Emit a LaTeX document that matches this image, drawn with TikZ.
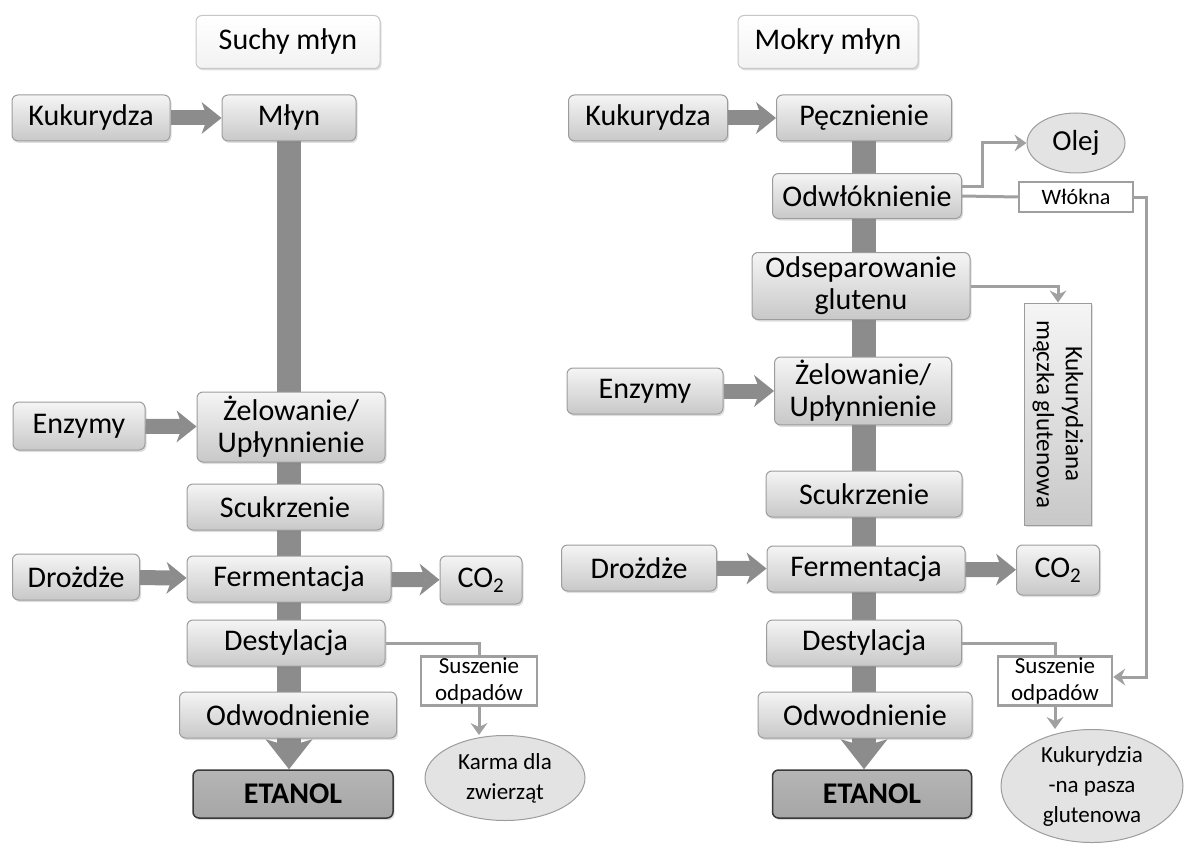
\documentclass[tikz,border=0pt]{standalone}
\usepackage{fontspec}
\setmainfont{Carlito}
\usepackage{tikz}
\usetikzlibrary{arrows.meta,backgrounds}
\usetikzlibrary{shapes,shadows}
\definecolor{boxtop}{HTML}{F5F5F5}
\definecolor{boxbot}{HTML}{C8C8C8}
\definecolor{boxline}{HTML}{9C9C9C}
\definecolor{barcol}{HTML}{8C8C8C}
\definecolor{linkcol}{HTML}{A0A0A0}
\tikzstyle{proc}=[rectangle, rounded corners=6pt, draw=boxline, line width=1pt, top color=boxtop, bottom color=boxbot, minimum height=46pt, align=center, font=\fontsize{30}{32}\selectfont, drop shadow={opacity=0.25, shadow xshift=1.5pt, shadow yshift=-2pt}]
\tikzstyle{titlebox}=[proc, top color=white, bottom color=gray!10, draw=gray!45]
\tikzstyle{result}=[proc, top color=gray!58, bottom color=gray!70, draw=gray!45!black, line width=1.5pt, font=\fontsize{30}{32}\selectfont\bfseries]
\tikzstyle{tag}=[rectangle, draw=gray!75, line width=2.5pt, fill=white, inner sep=1pt, align=center, font=\fontsize{23}{27}\selectfont]
\tikzstyle{prod}=[ellipse, draw=boxline, line width=1pt, fill=gray!22, inner sep=0pt, align=center, font=\fontsize{23}{30}\selectfont]
\tikzstyle{link}=[draw=linkcol, line width=3pt]
\tikzstyle{linkarr}=[link, -{Stealth[length=12pt, width=17pt, inset=4pt, line width=0pt]}]
\tikzstyle{blk}=[draw=barcol, line width=15pt, -{Stealth[length=20pt, width=32pt, inset=6pt, line width=0pt]}]
\tikzstyle{bar}=[draw=barcol, line width=24pt, -{Stealth[length=30pt, width=47pt, inset=7pt, line width=0pt]}]

\begin{document}
\begin{tikzpicture}[x=1pt, y=-1pt]
 \useasboundingbox (0,0) rectangle (1186,848);
% suchy mlyn
 \node[titlebox, minimum width=184, minimum height=53] (tsuchy) at (288,42) {Suchy młyn};
 \node[proc, minimum width=158] (kukA) at (91,118) {Kukurydza};
 \node[proc, minimum width=134] (mlynA) at (289,118) {Młyn};
 \node[proc, minimum width=132, minimum height=48] (enzA) at (79,426) {Enzymy};
 \node[proc, minimum width=188, minimum height=70] (zelA) at (291,427) {Żelowanie/\\Upłynnienie};
 \node[proc, minimum width=196] (scuA) at (285,507) {Scukrzenie};
 \node[proc, minimum width=127] (drozA) at (76,577) {Drożdże};
 \node[proc, minimum width=204] (fermA) at (289,579) {Fermentacja};
 \node[proc, minimum width=82, minimum height=48] (co2A) at (481,580) {CO\textsubscript{2}};
 \node[proc, minimum width=198] (destA) at (286,643) {Destylacja};
 \node[proc, minimum width=217] (odwA) at (288,715) {Odwodnienie};
 \node[result, minimum width=200, minimum height=48] (etaA) at (293,794) {ETANOL};
 \node[tag, minimum width=116, minimum height=48] (suszA) at (479,681) {Suszenie\\odpadów};
 \node[prod, minimum width=160, minimum height=85] (karma) at (505,778) {Karma dla\\zwierząt};
%
 \draw[blk] (kukA) -- (mlynA);
 \draw[blk] (enzA) -- (zelA);
 \draw[blk] (drozA) -- (fermA);
 \draw[blk] (fermA) -- (co2A);
 \draw[link] (destA.east) -| (suszA.north);
 \draw[linkarr] (suszA.south) -- (suszA.south |- karma.north);
% mokry mlyn
 \node[titlebox, minimum width=180, minimum height=53] (tmokry) at (828,42) {Mokry młyn};
 \node[proc, minimum width=159] (kukB) at (648,118) {Kukurydza};
 \node[proc, minimum width=175] (pecz) at (864,118) {Pęcznienie};
 \node[prod, minimum width=98, minimum height=60, font=\fontsize{29}{32}\selectfont] (olej) at (1076,143) {Olej};
 \node[proc, minimum width=189, minimum height=45] (odwl) at (867,196) {Odwłóknienie};
 \node[tag, minimum width=114, minimum height=30, font=\fontsize{22}{26}\selectfont] (wlokna) at (1076,197) {Włókna};
 \node[proc, minimum width=218, minimum height=67] (osep) at (861,286) {Odseparowanie\\glutenu};
 \node[proc, rotate=-90, minimum width=222, minimum height=67, rounded corners=0pt, font=\fontsize{25}{29}\selectfont] (maczka) at (1058,414) {Kukurydziana\\mączka glutenowa};
 \node[proc, minimum width=156] (enzB) at (645,391) {Enzymy};
 \node[proc, minimum width=177, minimum height=67] (zelB) at (863,391) {Żelowanie/\\Upłynnienie};
 \node[proc, minimum width=196] (scuB) at (864,494) {Scukrzenie};
 \node[proc, minimum width=155] (drozB) at (639,568) {Drożdże};
 \node[proc, minimum width=198] (fermB) at (866,569) {Fermentacja};
 \node[proc, minimum width=83, minimum height=50] (co2B) at (1058,570) {CO\textsubscript{2}};
 \node[proc, minimum width=195] (destB) at (864,643) {Destylacja};
 \node[proc, minimum width=214] (odwB) at (865,715) {Odwodnienie};
 \node[result, minimum width=199, minimum height=48] (etaB) at (872,794) {ETANOL};
 \node[tag, minimum width=114, minimum height=48] (suszB) at (1055,681) {Suszenie\\odpadów};
 \node[prod, minimum width=182, minimum height=105] (pasza) at (1092,786) {Kukurydzia\\-na pasza\\glutenowa};
%
 \draw[blk] (kukB) -- (pecz);
 \draw[blk] (enzB) -- (zelB);
 \draw[blk] (drozB) -- (fermB);
 \draw[blk] (fermB) -- (co2B);
 \draw[linkarr] ([yshift=10pt]odwl.east) -- ++(20,0) |- (olej.west);
 \draw[link] (odwl.east) -- (wlokna.west);
 \draw[linkarr] (wlokna.east) -- ++(12,0) |- ([yshift=4pt]suszB.east);
 \draw[linkarr] (osep.east) -| (maczka.west);
 \draw[link] (destB.east) -| (suszB.north);
 \draw[linkarr] (suszB.south) -- (suszB.south |- pasza.north);
% main flow bars
 \begin{scope}[on background layer]
  \draw[bar] (mlynA.south) -- (mlynA.south |- etaA.north);
  \draw[bar] (pecz.south) -- (pecz.south |- etaB.north);
 \end{scope}
\end{tikzpicture}
\end{document}
